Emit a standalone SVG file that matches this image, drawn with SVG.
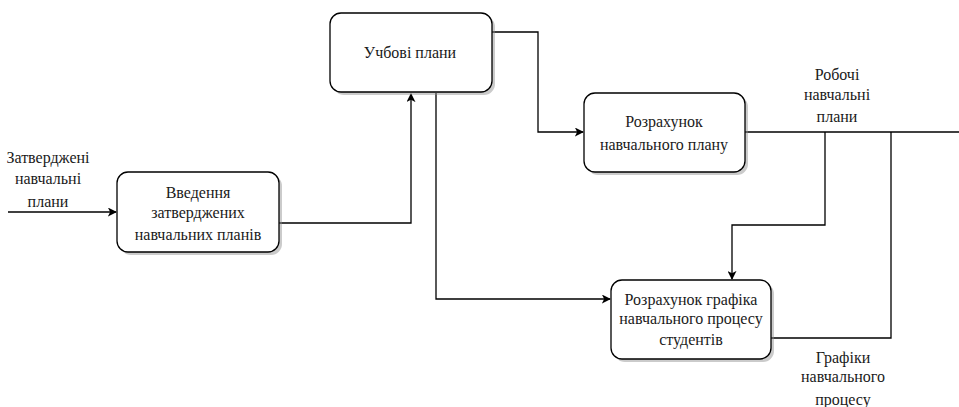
<svg xmlns="http://www.w3.org/2000/svg" width="959" height="407" viewBox="0 0 959 407">
  <style>
    .box { fill: #ffffff; stroke: #000000; stroke-width: 1.3; }
    .shadow { fill: #8c8c8c; opacity: 0.45; }
    .lbl { font-family: "Liberation Serif", "Times New Roman", "DejaVu Serif", serif; font-size: 16px; fill: #1a1a1a; text-anchor: middle; }
    .wire { fill: none; stroke: #000000; stroke-width: 1.3; }
  </style>
  <defs>
    <marker id="arrow" viewBox="0 0 10 10" refX="9" refY="5" markerWidth="9" markerHeight="9" markerUnits="userSpaceOnUse" orient="auto">
      <path d="M0,0 L10,5 L0,10 L2.5,5 Z" fill="#000000"/>
    </marker>
  </defs>

  <!-- connectors -->
  <g id="connectors">
    <path class="wire" d="M8,212 H116" marker-end="url(#arrow)"/>
    <path class="wire" d="M279,223 H411 V94" marker-end="url(#arrow)"/>
    <path class="wire" d="M492,32 H538 V132 H583" marker-end="url(#arrow)"/>
    <path class="wire" d="M436,93 V299 H610" marker-end="url(#arrow)"/>
    <path class="wire" d="M745,132 H959"/>
    <path class="wire" d="M825,132 V225 H732 V279" marker-end="url(#arrow)"/>
    <path class="wire" d="M771,338 H891 V132"/>
  </g>

  <!-- edge labels -->
  <g id="labels">
    <text class="lbl" x="48" y="163">Затверджені</text>
    <text class="lbl" x="48" y="184">навчальні</text>
    <text class="lbl" x="48" y="207">плани</text>

    <text class="lbl" x="837" y="80">Робочі</text>
    <text class="lbl" x="837" y="100">навчальні</text>
    <text class="lbl" x="837" y="122">плани</text>

    <text class="lbl" x="843" y="363">Графіки</text>
    <text class="lbl" x="843" y="382">навчального</text>
    <text class="lbl" x="843" y="405">процесу</text>
  </g>

  <g id="node-vvedennia">
    <rect class="shadow" x="120" y="175" width="162" height="80" rx="11"/>
    <rect class="box" x="117" y="172" width="162" height="80" rx="11"/>
    <text class="lbl" x="198" y="198">Введення</text>
    <text class="lbl" x="198" y="218">затверджених</text>
    <text class="lbl" x="198" y="240">навчальних планів</text>
  </g>

  <g id="node-uchbovi-plany">
    <rect class="shadow" x="333" y="16" width="162" height="79" rx="11"/>
    <rect class="box" x="330" y="13" width="162" height="79" rx="11"/>
    <text class="lbl" x="410" y="58">Учбові плани</text>
  </g>

  <g id="node-rozrakhunok-planu">
    <rect class="shadow" x="587" y="96" width="161" height="79" rx="11"/>
    <rect class="box" x="584" y="93" width="161" height="79" rx="11"/>
    <text class="lbl" x="664" y="127">Розрахунок</text>
    <text class="lbl" x="664" y="150">навчального плану</text>
  </g>

  <g id="node-rozrakhunok-hrafika">
    <rect class="shadow" x="614" y="283" width="160" height="79" rx="11"/>
    <rect class="box" x="611" y="280" width="160" height="79" rx="11"/>
    <text class="lbl" x="691" y="305">Розрахунок графіка</text>
    <text class="lbl" x="691" y="324">навчального процесу</text>
    <text class="lbl" x="691" y="345">студентів</text>
  </g>
</svg>
